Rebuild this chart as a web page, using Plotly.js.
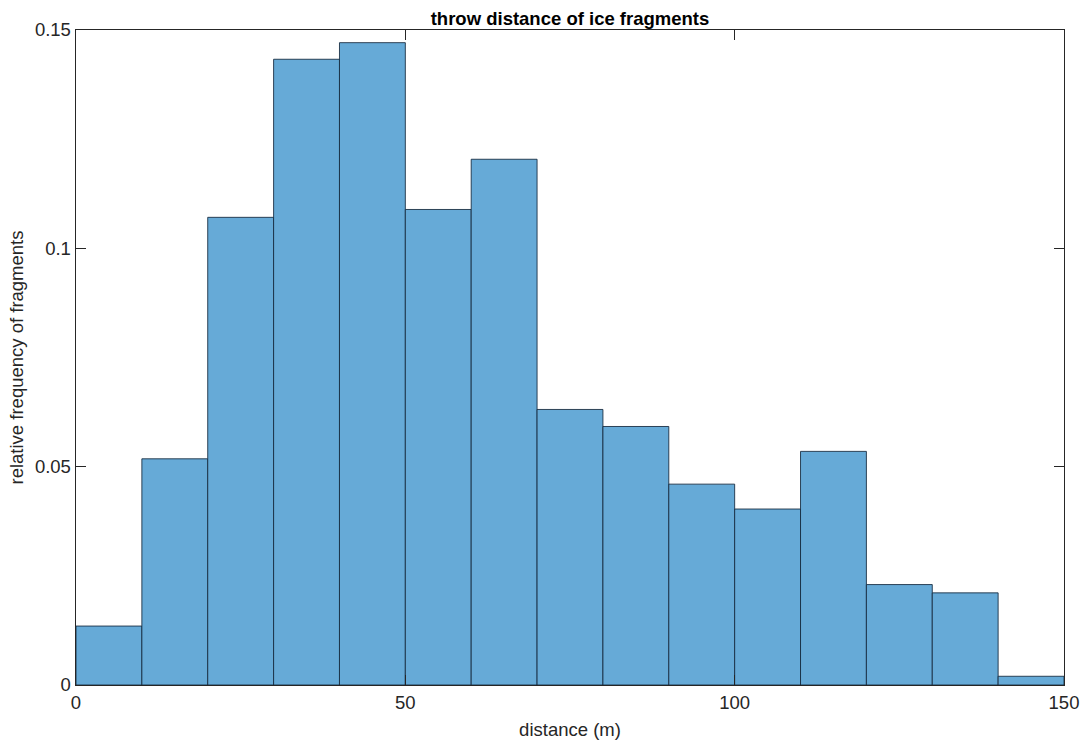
<!DOCTYPE html>
<html>
<head>
<meta charset="utf-8">
<script src="https://cdn.plot.ly/plotly-3.0.1.min.js"></script>
<style>
  html, body { margin: 0; padding: 0; background: #ffffff; }
  #chart { width: 1080px; height: 740px; }
</style>
</head>
<body>
<div id="chart"></div>
<script>
// Histogram bins (m) and relative frequency of ice fragments per bin
const binEdges = [0, 10, 20, 30, 40, 50, 60, 70, 80, 90, 100, 110, 120, 130, 140, 150];
const relFreq = [0.0135, 0.0518, 0.1071, 0.1433, 0.1471, 0.1089, 0.1204,
                 0.0631, 0.0592, 0.0460, 0.0403, 0.0535, 0.0230, 0.0211, 0.0020];
const xTicks = [0, 50, 100, 150];
const yTicks = [0, 0.05, 0.1, 0.15];
const yTickText = ['0', '0.05', '0.1', '0.15'];

const binCenters = relFreq.map((_, i) => (binEdges[i] + binEdges[i + 1]) / 2);
const binWidths = relFreq.map((_, i) => binEdges[i + 1] - binEdges[i]);

const font = 'Liberation Sans, Arial, Helvetica, sans-serif';
const axisColor = '#262626';

const trace = {
  type: 'bar',
  x: binCenters,
  y: relFreq,
  width: binWidths,
  marker: {
    color: 'rgb(102,170,215)',
    line: { color: 'rgba(20,40,60,0.85)', width: 1 }
  },
  hoverinfo: 'x+y'
};

const commonAxis = {
  showgrid: false,
  zeroline: false,
  showline: true,
  linecolor: axisColor,
  linewidth: 1.4,
  mirror: 'ticks',
  ticks: 'inside',
  ticklen: 10,
  tickwidth: 1.4,
  tickcolor: axisColor,
  tickfont: { family: font, size: 18.5, color: axisColor }
};

const layout = {
  width: 1080,
  height: 740,
  paper_bgcolor: '#ffffff',
  plot_bgcolor: '#ffffff',
  margin: { l: 76, r: 16, t: 30, b: 55 },
  showlegend: false,
  bargap: 0,
  title: {
    text: '<b>throw distance of ice fragments</b>',
    font: { family: font, size: 18.5, color: '#000000' },
    x: 0.5, xref: 'paper', xanchor: 'center',
    y: 1, yref: 'paper', yanchor: 'bottom', pad: { b: 5 }
  },
  xaxis: Object.assign({}, commonAxis, {
    range: [0, 150],
    tickmode: 'array',
    tickvals: xTicks,
    ticktext: xTicks.map(String),
    title: { text: 'distance (m)', font: { family: font, size: 18.5, color: axisColor }, standoff: 12 }
  }),
  yaxis: Object.assign({}, commonAxis, {
    range: [0, 0.15],
    tickmode: 'array',
    tickvals: yTicks,
    ticktext: yTickText,
    title: { text: 'relative frequency of fragments', font: { family: font, size: 18.5, color: axisColor }, standoff: 6 }
  })
};

Plotly.newPlot('chart', [trace], layout, { displayModeBar: false, staticPlot: true });
</script>
</body>
</html>
